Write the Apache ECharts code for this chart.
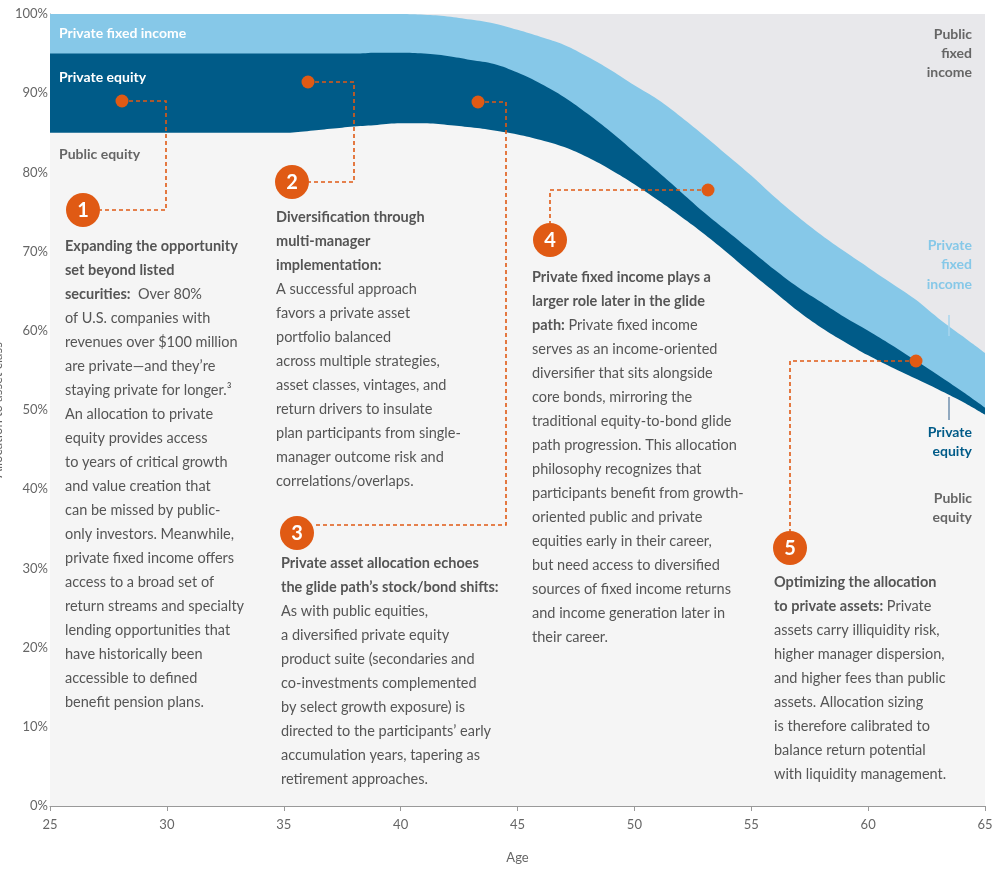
<!DOCTYPE html>
<html>
<head>
<meta charset="utf-8">
<script src="https://cdn.jsdelivr.net/npm/echarts@6/dist/echarts.min.js"></script>
<style>html,body{margin:0;padding:0;background:#fff}#chart{width:1000px;height:876px}</style>
</head>
<body>
<div id="chart"></div>
<script>
// ages 25..65, upper edge (cumulative %) of each band
var ages = [];
for (var a = 25; a <= 65; a++) ages.push(a);
var publicEquityTop = [85,85,85,85,85,85,85,85,85,85,85,85.2,85.5,85.8,86,86.2,86.2,86,85.7,85.3,84.8,84.1,83.2,81.9,80.3,78.5,76.5,74.4,72.2,69.8,67.3,64.9,62.5,60.4,58.6,56.9,55.4,54,52.6,51.1,49.4];
var privateEquityTop = [95,95,95,95,95,95,95,95,95,95,95,95,95,95,95.1,95.1,95,94.7,94.2,93.7,92.6,91.2,89.5,87.4,85.1,82.6,80.1,77.5,74.9,72.5,70.1,67.7,65.5,63.6,61.7,60,58.2,56.3,54.4,52.4,50.3];
var privateFITop = [100,100,100,100,100,100,100,100,100,100,100,100,100,100,100,100,99.9,99.7,99.3,98.8,98,97.1,96.1,94.6,92.9,91,89.2,87,84.6,82.1,79.6,76.9,74.4,72.1,70,68,66,64,61.6,59.4,57.2];
var publicFITop = ages.map(function () { return 100; });
var yTicks = [0,10,20,30,40,50,60,70,80,90,100];

var ORANGE = '#e05a14', GRAY = '#555';

function pairs(vals) { return ages.map(function (a, i) { return [a, vals[i]]; }); }
function band(name, vals, color) {
    return { name: name, type: 'line', data: pairs(vals), symbol: 'none', smooth: 0.4,
        lineStyle: { width: 0 }, areaStyle: { color: color, opacity: 1 }, silent: true };
}

var FONT = 'Lato';
var rich = {
    o: { fontFamily: FONT, fontSize: 14.5, fontWeight: 'bold', color: ORANGE },
    g: { fontFamily: FONT, fontSize: 14.5, color: GRAY }
};
function block(x, y, lines) {
    return lines.map(function (ln, i) {
        return { type: 'text', x: x, y: y + i * 24, z: 100,
            style: { text: ln, rich: rich, font: '14.5px ' + FONT, fill: GRAY, verticalAlign: 'middle' } };
    });
}
function txt(x, y, s, color, align) {
    return { type: 'text', x: x, y: y, z: 100,
        style: { text: s, fill: color, font: 'bold 14px ' + FONT, align: align || 'left', verticalAlign: 'middle' } };
}
function dash(points) {
    return { type: 'polyline', z: 100, shape: { points: points },
        style: { stroke: ORANGE, lineWidth: 1.6, lineDash: [4, 3], fill: null } };
}
function dot(x, y) { return { type: 'circle', z: 101, shape: { cx: x, cy: y, r: 6.5 }, style: { fill: ORANGE } }; }
function num(x, y, n) {
    return [{ type: 'circle', z: 101, shape: { cx: x, cy: y, r: 17 }, style: { fill: ORANGE } },
        { type: 'text', z: 102, x: x, y: y + 1, style: { text: String(n), fill: '#fff', font: 'bold 20px ' + FONT, align: 'center', verticalAlign: 'middle' } }];
}

var graphics = [].concat(
    dash([[122,101],[166,101],[166,210],[100,210]]),
    dash([[308,82],[354,82],[354,182],[309,182]]),
    dash([[478,102],[506,102],[506,525],[314,525]]),
    dash([[708,190],[550,190],[550,223]]),
    dash([[916,361],[790,361],[790,531]]),
    dot(122,101), dot(308,82), dot(478,102), dot(708,190), dot(916,361),
    num(83,210,1), num(292,182,2), num(297,533,3), num(550,240,4), num(790,548,5),
    txt(59,33,'Private fixed income','#fff'),
    txt(59,77,'Private equity','#fff'),
    txt(59,154,'Public equity','#666'),
    txt(972,34,'Public','#666','right'), txt(972,53,'fixed','#666','right'), txt(972,72,'income','#666','right'),
    txt(972,245,'Private','#86c8e8','right'), txt(972,264,'fixed','#86c8e8','right'), txt(972,284,'income','#86c8e8','right'),
    txt(972,432,'Private','#005b88','right'), txt(972,451,'equity','#005b88','right'),
    txt(972,498,'Public','#666','right'), txt(972,517,'equity','#666','right'),
    { type: 'line', z: 100, shape: { x1: 949, y1: 315, x2: 949, y2: 336 }, style: { stroke: '#a9d6ee', lineWidth: 1.5 } },
    { type: 'line', z: 100, shape: { x1: 949, y1: 397, x2: 949, y2: 420 }, style: { stroke: '#6f8fae', lineWidth: 1.5 } },
    block(65, 246, [
        '{o|Expanding the opportunity}', '{o|set beyond listed}', '{o|securities:}{g|  Over 80%}',
        'of U.S. companies with', 'revenues over $100 million', 'are private—and they’re',
        'staying private for longer.³', 'An allocation to private', 'equity provides access',
        'to years of critical growth', 'and value creation that', 'can be missed by public-',
        'only investors. Meanwhile,', 'private fixed income offers', 'access to a broad set of',
        'return streams and specialty', 'lending opportunities that', 'have historically been',
        'accessible to defined', 'benefit pension plans.']),
    block(276, 217, [
        '{o|Diversification through}', '{o|multi-manager}', '{o|implementation:}',
        'A successful approach', 'favors a private asset', 'portfolio balanced',
        'across multiple strategies,', 'asset classes, vintages, and', 'return drivers to insulate',
        'plan participants from single-', 'manager outcome risk and', 'correlations/overlaps.']),
    block(281, 563, [
        '{o|Private asset allocation echoes}', '{o|the glide path’s stock/bond shifts:}',
        'As with public equities,', 'a diversified private equity', 'product suite (secondaries and',
        'co-investments complemented', 'by select growth exposure) is', 'directed to the participants’ early',
        'accumulation years, tapering as', 'retirement approaches.']),
    block(532, 277, [
        '{o|Private fixed income plays a}', '{o|larger role later in the glide}', '{o|path:}{g| Private fixed income}',
        'serves as an income-oriented', 'diversifier that sits alongside', 'core bonds, mirroring the',
        'traditional equity-to-bond glide', 'path progression. This allocation', 'philosophy recognizes that',
        'participants benefit from growth-', 'oriented public and private', 'equities early in their career,',
        'but need access to diversified', 'sources of fixed income returns', 'and income generation later in',
        'their career.']),
    block(774, 582, [
        '{o|Optimizing the allocation}', '{o|to private assets:}{g| Private}',
        'assets carry illiquidity risk,', 'higher manager dispersion,', 'and higher fees than public',
        'assets. Allocation sizing', 'is therefore calibrated to', 'balance return potential',
        'with liquidity management.'])
);

var option = {
    animation: false,
    grid: { left: 50, right: 15, top: 14, bottom: 70, outerBoundsMode: 'none', containLabel: false },
    xAxis: {
        type: 'value', min: 25, max: 65, interval: 5,
        name: 'Age', nameLocation: 'middle', nameGap: 45,
        nameTextStyle: { color: '#666', fontSize: 13, fontFamily: FONT },
        axisLine: { lineStyle: { color: '#999' } },
        axisTick: { show: true, length: 5, lineStyle: { color: '#999' } },
        axisLabel: { color: '#666', fontSize: 13, fontFamily: FONT, margin: 12 },
        splitLine: { show: false }
    },
    yAxis: {
        type: 'value', min: 0, max: 100, interval: 10,
        name: 'Allocation to asset class', nameLocation: 'middle', nameGap: 38,
        nameTextStyle: { color: '#666', fontSize: 13, fontFamily: FONT },
        axisLine: { show: true, lineStyle: { color: '#999' } },
        axisTick: { show: false },
        axisLabel: { color: '#666', fontSize: 13, fontFamily: FONT, margin: 2,
            formatter: function (v) { return yTicks.indexOf(v) >= 0 ? v + '%' : ''; } },
        splitLine: { show: false }
    },
    series: [
        band('Public fixed income', publicFITop, '#e8e8eb'),
        band('Private fixed income', privateFITop, '#86c8e8'),
        band('Private equity', privateEquityTop, '#005b88'),
        band('Public equity', publicEquityTop, '#f5f5f5')
    ],
    graphic: graphics
};
var myChart = echarts.init(document.getElementById('chart'));
myChart.setOption(option);
</script>
</body>
</html>
